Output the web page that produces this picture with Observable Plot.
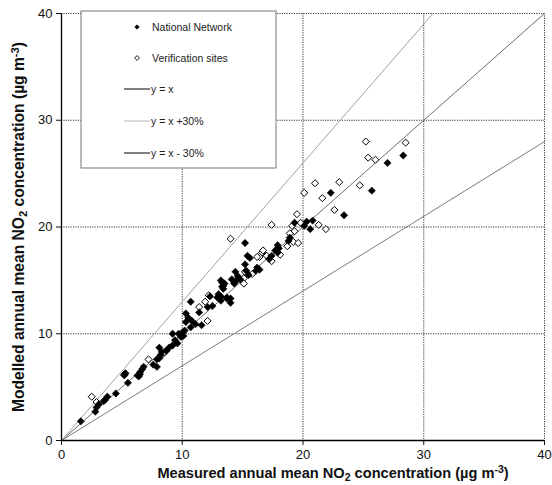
<!DOCTYPE html>
<html>
<head>
<meta charset="utf-8">
<script src="https://cdn.jsdelivr.net/npm/d3@7"></script>
<script src="https://cdn.jsdelivr.net/npm/@observablehq/plot@0.6"></script>
<style>
  html, body { margin: 0; padding: 0; background: #fff; }
  #chart svg { display: block; }
</style>
</head>
<body>
<div id="chart"></div>
<script>
// ---- Data ----
const axisTicks = [0, 10, 20, 30, 40];
const gridTicks = [10, 20, 30, 40];

const nationalX = [1.6,2.8,2.9,3.1,3.5,3.6,3.8,4.5,5.5,5.3,5.2,6.3,6.5,6.7,6.8,6.5,6.4,7.6,7.9,8.1,8.2,7.9,8.1,8.3,8.7,8.9,9.2,9.6,9.4,9.2,9.7,9.9,10.0,10.1,10.2,10.3,10.5,10.3,10.8,11.1,10.7,11.4,11.6,10.7,12.1,12.5,12.9,13.0,13.2,13.7,14.0,12.3,13.2,13.7,14.0,13.3,13.4,14.1,14.3,14.5,13.2,13.3,13.5,13.4,14.4,14.6,14.2,14.8,15.3,15.5,15.2,15.4,15.6,15.2,16.2,16.4,16.1,17.2,17.4,17.9,18.0,17.7,17.9,18.8,18.9,19.3,20.3,20.8,20.1,20.6,22.3,25.7,23.4,27.0,28.3];
const nationalY = [1.8,2.7,3.1,3.4,3.7,3.8,4.1,4.4,5.4,6.3,6.1,6.1,6.4,6.7,6.9,6.2,6.0,7.1,7.6,8.7,8.0,6.9,7.7,8.3,8.4,8.7,8.9,9.1,9.4,10.0,10.0,9.7,10.1,9.8,10.3,11.9,11.5,11.1,11.2,10.9,10.6,12.0,10.8,13.0,12.5,12.6,13.4,13.7,13.1,13.3,12.9,13.5,13.5,13.4,13.3,14.8,14.5,15.1,14.7,15.0,15.0,14.4,14.7,14.2,15.8,15.4,15.0,15.1,15.9,15.5,18.5,17.3,17.1,16.5,16.2,16.0,15.9,17.0,17.3,18.3,18.0,17.8,17.6,18.7,19.0,20.4,20.5,20.6,20.1,19.8,23.2,23.4,21.1,26.0,26.7];

const verificationX = [2.5,2.9,5.2,7.2,8.4,8.5,11.4,11.9,12.2,12.1,14.0,15.2,15.1,15.8,15.1,16.6,16.7,16.4,17.4,17.0,16.2,18.1,17.4,19.1,19.3,18.9,19.2,19.6,18.7,19.5,20.1,19.8,21.0,23.0,24.7,21.6,22.6,21.3,21.9,25.2,28.5,25.4,26.0];
const verificationY = [4.1,3.6,6.2,7.6,8.1,8.3,12.5,13.0,13.6,11.2,18.9,15.8,15.2,15.6,14.7,17.6,17.8,17.2,16.8,17.3,17.2,17.4,20.2,20.1,19.6,19.4,18.6,18.5,18.2,21.2,23.2,20.4,24.1,24.2,23.9,22.7,21.6,20.2,19.8,28.0,27.9,26.5,26.3];

const lineNames = ["y = x", "y = x +30%", "y = x - 30%"];
const lineRatios = [1, 1.3, 0.7];
const lineColors = ["#6e6e6e", "#a0a0a0", "#7a7a7a"];
const legendLineColors = ["#000", "#b4b4b4", "#000"];

// ---- Build tables ----
const national = nationalX.map((x, i) => ({x, y: nationalY[i]}));
const verification = verificationX.map((x, i) => ({x, y: verificationY[i]}));
const refLines = lineRatios.flatMap((r, i) => {
  const xEnd = Math.min(40, 40 / r);
  return [{name: lineNames[i], x: 0, y: 0}, {name: lineNames[i], x: xEnd, y: r * xEnd}];
});

const W = 552, H = 485;
const chart = Plot.plot({
  width: W, height: H,
  marginLeft: 61, marginRight: 8, marginTop: 13, marginBottom: 45,
  style: {fontFamily: "'Liberation Sans', Arial, sans-serif", fontSize: "13px", color: "#111", background: "#fff", overflow: "visible"},
  x: {domain: [0, 40], ticks: axisTicks, label: null},
  y: {domain: [0, 40], ticks: axisTicks, label: null},
  marks: [
    Plot.ruleX(gridTicks, {stroke: "#222", strokeOpacity: 1, strokeWidth: 0.9, strokeDasharray: "1.2,1.2"}),
    Plot.ruleY(gridTicks, {stroke: "#222", strokeOpacity: 1, strokeWidth: 0.9, strokeDasharray: "1.2,1.2"}),
    Plot.line(refLines, {x: "x", y: "y", z: "name", stroke: d => lineColors[lineNames.indexOf(d.name)], strokeWidth: 1}),
    Plot.dot(verification, {x: "x", y: "y", symbol: "diamond2", r: 3.2, fill: "#fff", stroke: "#000", strokeWidth: 1}),
    Plot.dot(national, {x: "x", y: "y", symbol: "diamond2", r: 3.3, fill: "#000", stroke: "#000", strokeWidth: 0.5}),
    Plot.axisX({ticks: axisTicks, tickSize: 5, tickPadding: 4, label: null, fontSize: 13}),
    Plot.axisY({ticks: axisTicks, tickSize: 5, tickPadding: 4, label: null, fontSize: 13}),
    Plot.ruleX([0], {stroke: "#000", strokeWidth: 1.3}),
    Plot.ruleY([0], {stroke: "#000", strokeWidth: 1.3})
  ]
});
document.getElementById("chart").appendChild(chart);

// ---- Axis titles with sub/superscripts ----
const svg = d3.select(chart);
const font = "'Liberation Sans', Arial, sans-serif";
function title(sel, pre, sub, mid, sup, post) {
  sel.append("tspan").text(pre);
  sel.append("tspan").attr("dy", 3).attr("font-size", "0.72em").text(sub);
  sel.append("tspan").attr("dy", -3).text(mid);
  sel.append("tspan").attr("dy", -5).attr("font-size", "0.72em").text(sup);
  sel.append("tspan").attr("dy", 5).text(post);
}
const xt = svg.append("text")
  .attr("x", 333).attr("y", 478)
  .attr("text-anchor", "middle").attr("font-family", font)
  .attr("font-weight", "bold").attr("font-size", 14.6).attr("fill", "#111");
title(xt, "Measured annual mean NO", "2", " concentration (µg m", "-3", ")");

const yt = svg.append("text")
  .attr("transform", "translate(24,227) rotate(-90)")
  .attr("text-anchor", "middle").attr("font-family", font)
  .attr("font-weight", "bold").attr("font-size", 15.6).attr("fill", "#111");
title(yt, "Modelled annual mean NO", "2", " concentration (µg m", "-3", ")");

// ---- Legend box inside the plot ----
const lg = svg.append("g").attr("font-family", font).attr("font-size", 10.5).attr("fill", "#222").attr("text-anchor", "start");
lg.append("rect").attr("x", 81).attr("y", 11).attr("width", 195).attr("height", 157)
  .attr("fill", "#fff").attr("stroke", "#777").attr("stroke-width", 1);
const rowsY = [27, 58, 89, 121, 153];
const labels = ["National Network", "Verification sites", ...lineNames];
const diamond = (cx, cy, s) => `M${cx},${cy - s}L${cx + s},${cy}L${cx},${cy + s}L${cx - s},${cy}Z`;
lg.append("path").attr("d", diamond(137, rowsY[0], 2.6)).attr("fill", "#000");
lg.append("path").attr("d", diamond(137, rowsY[1], 2.4)).attr("fill", "#fff").attr("stroke", "#000").attr("stroke-width", 0.9);
for (let i = 0; i < 3; i++) {
  lg.append("line").attr("x1", 124).attr("x2", 150).attr("y1", rowsY[i + 2]).attr("y2", rowsY[i + 2])
    .attr("stroke", legendLineColors[i]).attr("stroke-width", 1);
}
labels.forEach((t, i) => {
  lg.append("text").attr("x", i < 2 ? 152 : 151).attr("y", rowsY[i]).attr("dy", "0.35em").attr("text-anchor", "start").text(t);
});
</script>
</body>
</html>
